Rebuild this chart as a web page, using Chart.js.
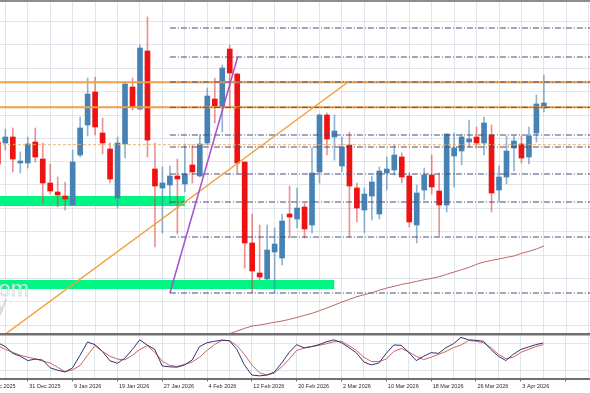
<!DOCTYPE html>
<html>
<head>
<meta charset="utf-8">
<script src="https://cdn.jsdelivr.net/npm/chart.js@4.4.1/dist/chart.umd.min.js"></script>
<style>
  html, body { margin: 0; padding: 0; background: #fff; }
  #wrap { position: relative; width: 590px; height: 393px; overflow: hidden; }
  #main { position: absolute; left: 0; top: 0; }
  #stoch { position: absolute; left: 0; top: 333px; }
</style>
</head>
<body>
<div id="wrap">
  <canvas id="main" width="590" height="333"></canvas>
  <canvas id="stoch" width="590" height="60"></canvas>
</div>
<script>
// candle index 0 = 22 Dec 2025, one step per trading day
const FIRST = 2; // first visible candle (24 Dec 2025)

const opens = [
  1.1574, 1.1571, 1.1589, 1.1511, 1.1511, 1.1574, 1.1523, 1.1451, 1.1424, 1.1412,
  1.1385, 1.1535, 1.1625, 1.1724, 1.1601, 1.1553, 1.1406, 1.1568, 1.1739, 1.1673,
  1.1847, 1.1493, 1.1436, 1.1445, 1.1472, 1.1448, 1.1505, 1.1472, 1.1571, 1.1703,
  1.1679, 1.1853, 1.1778, 1.1514, 1.1271, 1.1181, 1.1163, 1.1244, 1.1226, 1.1358,
  1.1343, 1.1379, 1.1325, 1.1484, 1.1655, 1.1589, 1.1502, 1.1565, 1.1436, 1.1370,
  1.1412, 1.1358, 1.1481, 1.1490, 1.1529, 1.1472, 1.1325, 1.1430, 1.1475, 1.1427,
  1.1385, 1.1532, 1.1547, 1.1574, 1.1589, 1.1571, 1.1595, 1.1430, 1.1469, 1.1556,
  1.1568, 1.1529, 1.1601, 1.1676
];
const highs = [
  1.1595, 1.1613, 1.1616, 1.1544, 1.1589, 1.1616, 1.1571, 1.1508, 1.1469, 1.1454,
  1.1550, 1.1649, 1.1766, 1.1769, 1.1646, 1.1571, 1.1589, 1.1754, 1.1766, 1.1865,
  1.1949, 1.1571, 1.1499, 1.1502, 1.1523, 1.1568, 1.1565, 1.1595, 1.1736, 1.1766,
  1.1805, 1.1865, 1.1781, 1.1514, 1.1358, 1.1325, 1.1325, 1.1316, 1.1358, 1.1442,
  1.1436, 1.1391, 1.1556, 1.1658, 1.1661, 1.1655, 1.1589, 1.1604, 1.1451, 1.1436,
  1.1472, 1.1499, 1.1529, 1.1565, 1.1541, 1.1481, 1.1445, 1.1496, 1.1535, 1.1481,
  1.1598, 1.1601, 1.1598, 1.1640, 1.1619, 1.1649, 1.1625, 1.1502, 1.1592, 1.1592,
  1.1592, 1.1619, 1.1715, 1.1775
];
const lows = [
  1.1496, 1.1550, 1.1484, 1.1481, 1.1496, 1.1514, 1.1391, 1.1418, 1.1379, 1.1370,
  1.1385, 1.1529, 1.1592, 1.1595, 1.1538, 1.1451, 1.1376, 1.1526, 1.1670, 1.1670,
  1.1529, 1.1259, 1.1301, 1.1388, 1.1298, 1.1424, 1.1451, 1.1469, 1.1565, 1.1631,
  1.1604, 1.1676, 1.1481, 1.1196, 1.1121, 1.1160, 1.1160, 1.1121, 1.1205, 1.1286,
  1.1316, 1.1286, 1.1301, 1.1451, 1.1535, 1.1520, 1.1484, 1.1289, 1.1334, 1.1301,
  1.1340, 1.1343, 1.1430, 1.1475, 1.1451, 1.1319, 1.1271, 1.1400, 1.1418, 1.1292,
  1.1364, 1.1439, 1.1505, 1.1559, 1.1556, 1.1535, 1.1364, 1.1394, 1.1448, 1.1487,
  1.1511, 1.1508, 1.1574, 1.1664
];
const closes = [
  1.1508, 1.1589, 1.1523, 1.1517, 1.1568, 1.1529, 1.1451, 1.1427, 1.1415, 1.1403,
  1.1514, 1.1616, 1.1718, 1.1619, 1.1571, 1.1463, 1.1571, 1.1748, 1.1679, 1.1856,
  1.1580, 1.1442, 1.1451, 1.1472, 1.1463, 1.1478, 1.1484, 1.1568, 1.1712, 1.1682,
  1.1796, 1.1781, 1.1511, 1.1271, 1.1187, 1.1169, 1.1250, 1.1268, 1.1337, 1.1349,
  1.1376, 1.1313, 1.1481, 1.1655, 1.1583, 1.1607, 1.1559, 1.1442, 1.1376, 1.1418,
  1.1454, 1.1487, 1.1493, 1.1535, 1.1469, 1.1334, 1.1421, 1.1475, 1.1439, 1.1385,
  1.1598, 1.1556, 1.1589, 1.1583, 1.1571, 1.1631, 1.1421, 1.1469, 1.1547, 1.1577,
  1.1526, 1.1592, 1.1688, 1.1691
];

// moving average, from candle 33 on
const MA_FIRST = 33;
const maValues = [
  1.0999, 1.1007, 1.1015, 1.1022, 1.1025, 1.1029, 1.1033, 1.1037, 1.1042, 1.1048,
  1.1054, 1.1060, 1.1068, 1.1076, 1.1085, 1.1094, 1.1102, 1.1110, 1.1116, 1.1122,
  1.1129, 1.1136, 1.1141, 1.1147, 1.1151, 1.1156, 1.1161, 1.1165, 1.1170, 1.1177,
  1.1184, 1.1191, 1.1198, 1.1207, 1.1214, 1.1219, 1.1223, 1.1228, 1.1232, 1.1240,
  1.1246, 1.1253, 1.1262
];

// stochastic %K and %D, same candles as the prices
const stochK = [
  82.6, 73.9, 58.7, 52.2, 42.4, 45.7, 43.5, 26.1, 20.7, 16.7,
  26.1, 54.3, 84.1, 78.3, 63.0, 42.0, 36.3, 47.8, 67.4, 89.1,
  77.2, 67.4, 30.4, 28.3, 27.6, 32.6, 43.5, 73.9, 82.6, 85.9,
  88.5, 87.0, 67.4, 32.6, 9.8, 8.0, 9.8, 16.3, 37.0, 60.9,
  78.3, 71.1, 73.9, 78.3, 84.8, 89.1, 82.6, 71.7, 59.8, 39.1,
  32.6, 37.0, 58.7, 77.6, 76.7, 60.9, 42.4, 52.2, 60.2, 58.7,
  71.7, 80.4, 94.6, 89.1, 88.0, 85.9, 67.4, 52.2, 42.4, 56.5,
  67.4, 72.8, 78.3, 82.0
];
const stochD = [
  76.1, 67.4, 60.9, 54.3, 50.0, 46.7, 41.3, 37.0, 27.2, 17.4,
  21.7, 31.1, 54.3, 76.1, 63.0, 52.2, 45.7, 44.1, 54.3, 67.4,
  76.1, 60.9, 41.3, 31.5, 29.3, 33.7, 39.1, 50.0, 65.2, 78.3,
  88.0, 87.0, 76.1, 56.5, 32.6, 15.2, 9.8, 14.1, 28.3, 45.7,
  65.2, 70.7, 73.9, 76.7, 80.4, 84.8, 85.9, 76.1, 65.2, 50.0,
  40.2, 40.2, 45.7, 63.0, 69.6, 62.0, 52.2, 44.6, 50.0, 56.5,
  63.0, 71.7, 77.2, 87.6, 85.9, 82.6, 71.7, 56.5, 46.7, 50.0,
  60.9, 67.4, 73.9, 78.3
];

// x-axis labels, one every 6 candles starting at index 0
const tickLabels = ['22 Dec 2025', '31 Dec 2025', '9 Jan 2026', '19 Jan 2026', '27 Jan 2026',
  '4 Feb 2026', '12 Feb 2026', '20 Feb 2026', '2 Mar 2026', '10 Mar 2026', '18 Mar 2026',
  '26 Mar 2026', '3 Apr 2026'];

// drawn objects
const orangeLevels = [1.1753, 1.1678];
const orangeDashedLevel = 1.1566;
const dashLevels = [1.1916, 1.1829, 1.1754, 1.1678, 1.1595, 1.1559, 1.1478, 1.1394, 1.1289, 1.1121];
const DASH_FROM = 25;
const orangeTrendX = [3.2, 49];
const orangeTrendY = [1.1001, 1.1757];
const purpleTrendX = [25, 34.06];
const purpleTrendY = [1.1121, 1.1829];
const zoneTop = [1.1412, 1.1160];
const zoneBottom = [1.1382, 1.1133];
const zoneEnd = [27, 47];
const priceGrid = [1.1025, 1.1095, 1.1165, 1.1235, 1.1305, 1.1375, 1.1445, 1.1515,
  1.1585, 1.1655, 1.1725, 1.1795, 1.1865, 1.1935];

const X_MIN = 2.286, X_MAX = 81.163;
const GRID = 'rgba(200,208,220,0.55)';
const BULL = 'rgb(70,130,180)', BEAR = 'rgb(238,18,18)';

// size the date font so "31 Dec 2025" is about 31px wide, like the original
const meas = document.createElement('canvas').getContext('2d');
meas.font = '10px "Liberation Sans"';
const LABEL_SIZE = Math.round(10 * 31 / meas.measureText('31 Dec 2025').width * 10) / 10;
const LABEL_FONT = LABEL_SIZE + 'px "Liberation Sans"';

const up = opens.map((o, k) => closes[k] >= o);
const gridIdx = [];
for (let v = 3; v <= 81; v += 3) gridIdx.push(v);
const labelFor = v => (v % 6 === 0 && tickLabels[v / 6]) ? ' ' + tickLabels[v / 6] : '';

const hline = (y, x0, x1) => [{ x: x0, y: y }, { x: x1, y: y }];
const lineDs = (data, color, width, dash, order) => ({
  type: 'line', data, borderColor: color, borderWidth: width, borderDash: dash || [],
  pointRadius: 0, tension: 0, fill: false, order
});

const datasets = [];
zoneTop.forEach((t, z) => {
  datasets.push({
    type: 'line', data: hline(t, 0, zoneEnd[z]), borderWidth: 0, pointRadius: 0,
    backgroundColor: 'rgb(0,245,130)', fill: { value: zoneBottom[z] }, order: 20
  });
});
datasets.push({
  type: 'bar', data: highs.map((h, k) => ({ x: FIRST + k, y: [lows[k], h] })),
  backgroundColor: up.map(u => u ? 'rgba(70,130,180,0.6)' : 'rgba(215,60,60,0.55)'),
  barThickness: 1, grouped: false, order: 12
});
datasets.push({
  type: 'bar', data: opens.map((o, k) => ({ x: FIRST + k, y: [o, closes[k]] })),
  backgroundColor: up.map(u => u ? BULL : BEAR),
  barThickness: 5, grouped: false, minBarLength: 1, order: 11
});
orangeLevels.forEach(l => datasets.push(lineDs(hline(l, 0, 90), 'rgb(240,160,70)', 2, [], 7)));
datasets.push(lineDs(hline(orangeDashedLevel, 0, 90), 'rgba(232,172,105,0.9)', 1, [3, 2], 7));
dashLevels.forEach(l => datasets.push(lineDs(hline(l, DASH_FROM, 90), 'rgb(72,72,118)', 1, [6, 2, 1, 2], 6)));
datasets.push(lineDs(maValues.map((v, k) => ({ x: MA_FIRST + k, y: v })), 'rgb(192,100,100)', 1, [], 5));
datasets.push(lineDs(orangeTrendX.map((x, k) => ({ x, y: orangeTrendY[k] })), 'rgb(240,160,60)', 1.5, [], 4));
datasets.push(lineDs(purpleTrendX.map((x, k) => ({ x, y: purpleTrendY[k] })), 'rgb(165,80,205)', 1.5, [], 3));

const decorMain = {
  id: 'decorMain',
  afterDraw(chart) {
    const ctx = chart.ctx;
    ctx.save();
    ctx.fillStyle = '#8e8e8e';
    ctx.fillRect(0, 0, chart.width, 2);
    ctx.font = '22px "Liberation Sans"';
    ctx.textAlign = 'right';
    ctx.fillStyle = 'rgba(255,255,255,0.85)';
    ctx.strokeStyle = 'rgba(170,190,200,0.6)';
    ctx.lineWidth = 0.8;
    ctx.fillText('com', 29, 296);
    ctx.strokeText('com', 29, 296);
    ctx.fillStyle = 'rgba(195,200,215,0.7)';
    ctx.fillText('y', 7, 311);
    ctx.restore();
  }
};

new Chart(document.getElementById('main'), {
  type: 'bar',
  data: { datasets },
  options: {
    responsive: false, animation: false,
    layout: { padding: 0, autoPadding: false },
    plugins: { legend: { display: false }, tooltip: { enabled: false } },
    scales: {
      x: {
        type: 'linear', min: X_MIN, max: X_MAX, offset: false,
        grid: { color: GRID, drawTicks: false, offset: false },
        border: { display: false }, ticks: { display: false },
        afterBuildTicks: s => { s.ticks = gridIdx.map(v => ({ value: v })); }
      },
      y: {
        min: 1.1001, max: 1.2000,
        grid: { color: GRID, drawTicks: false },
        border: { display: false }, ticks: { display: false },
        afterBuildTicks: s => { s.ticks = priceGrid.map(v => ({ value: v })); }
      }
    }
  },
  plugins: [decorMain]
});

// separator on top, and the first date label that starts left of the window
const decorStoch = {
  id: 'decorStoch',
  afterDraw(chart) {
    const ctx = chart.ctx;
    const xs = chart.scales.x;
    ctx.save();
    ctx.fillStyle = '#707070';
    ctx.fillRect(0, 0, chart.width, 2.5);
    const x0 = xs.getPixelForValue(0);
    const firstTick = xs.getPixelForTick(0);
    const labelY = xs._labelItems && xs._labelItems.length ? xs._labelItems[0].options.translation[1] : xs.top + 4;
    const labelOpt = xs._labelItems && xs._labelItems.length ? xs._labelItems[0].options : null;
    ctx.font = LABEL_FONT;
    ctx.fillStyle = '#2a2a2a';
    ctx.textAlign = 'left';
    ctx.textBaseline = labelOpt ? labelOpt.textBaseline : 'top';
    const off = xs._labelItems && xs._labelItems.length ? xs._labelItems[0].textOffset : 0;
    ctx.fillText(labelFor(0), x0, labelY + off);
    ctx.restore();
  }
};

new Chart(document.getElementById('stoch'), {
  type: 'line',
  data: {
    datasets: [
      lineDs(stochK.map((v, k) => ({ x: FIRST + k, y: v })), 'rgb(50,50,115)', 1, [], 1),
      lineDs(stochD.map((v, k) => ({ x: FIRST + k, y: v })), 'rgb(205,100,100)', 1, [], 2)
    ]
  },
  options: {
    responsive: false, animation: false,
    layout: { padding: { top: 2, bottom: 1, left: 0, right: 0 }, autoPadding: false },
    plugins: { legend: { display: false }, tooltip: { enabled: false } },
    scales: {
      x: {
        type: 'linear', min: X_MIN, max: X_MAX, offset: false,
        grid: {
          color: GRID, tickLength: 2,
          tickColor: c => (c.tick && c.tick.value % 6 === 0) ? '#666' : 'rgba(0,0,0,0)'
        },
        border: { display: true, color: '#707070', width: 2 },
        ticks: {
          autoSkip: false, maxRotation: 0, align: 'start', padding: 2,
          color: '#2a2a2a', font: { family: '"Liberation Sans"', size: LABEL_SIZE },
          callback: v => labelFor(v)
        },
        afterBuildTicks: s => { s.ticks = gridIdx.map(v => ({ value: v })); }
      },
      y: {
        min: 0, max: 100,
        grid: { color: GRID, drawTicks: false },
        border: { display: false }, ticks: { display: false },
        afterBuildTicks: s => { s.ticks = [20, 80].map(v => ({ value: v })); }
      }
    }
  },
  plugins: [decorStoch]
});
</script>
</body>
</html>
